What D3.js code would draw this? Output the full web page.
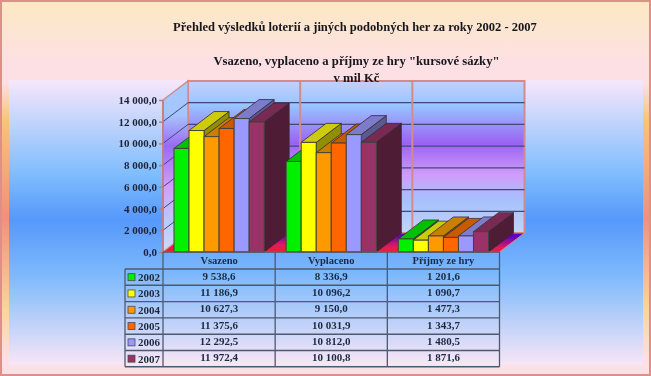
<!DOCTYPE html>
<html>
<head>
<meta charset="utf-8">
<script src="https://cdn.jsdelivr.net/npm/d3@7"></script>
<style>
  html, body { margin: 0; padding: 0; background: #fff; }
  svg { display: block; }
  text { font-family: "Liberation Serif", serif; font-weight: bold; }
</style>
</head>
<body>
<div id="chart"></div>
<script>
// data
const categories = ["Vsazeno", "Vyplaceno", "Příjmy ze hry"];
const years = ["2002", "2003", "2004", "2005", "2006", "2007"];
const vsazeno = [9538.6, 11186.9, 10627.3, 11375.6, 12292.5, 11972.4];
const vyplaceno = [8336.9, 10096.2, 9150.0, 10031.9, 10812.0, 10100.8];
const prijmy = [1201.6, 1090.7, 1477.3, 1343.7, 1480.5, 1871.6];
const seriesByCategory = [vsazeno, vyplaceno, prijmy];
const yTicks = [0, 2000, 4000, 6000, 8000, 10000, 12000, 14000];

const titleLines = [
    "Přehled výsledků loterií a jiných podobných her za roky 2002 - 2007",
    "Vsazeno, vyplaceno a příjmy ze hry \"kursové sázky\"",
    "v mil Kč"
];

const frontColors = ["#00f000", "#ffff00", "#ff9900", "#ff6600", "#9999ff", "#993366"];
const topColors = ["#00c000", "#cccc10", "#c98000", "#c85a00", "#7c7cc8", "#782a52"];
const sideColors = ["#009000", "#8f8f00", "#8f5a00", "#8f3a00", "#5a5a92", "#4f1b36"];

const width = 651, height = 376;
const depthX = 25, depthY = -19;   // 3D offset of the back wall
const left = 163, right = 499.5, base = 252, top14 = 100;

const svg = d3.select("#chart").append("svg")
    .attr("width", width)
    .attr("height", height);

const defs = svg.append("defs");

function vGrad(id, stops, y1, y2) {
    const g = defs.append("linearGradient")
        .attr("id", id)
        .attr("gradientUnits", "userSpaceOnUse")
        .attr("x1", 0).attr("x2", 0).attr("y1", y1).attr("y2", y2);
    stops.forEach(s => g.append("stop").attr("offset", s[0]).attr("stop-color", s[1]));
}

vGrad("outerBg", [[0, "#fbe9c2"], [0.17, "#fde0e4"], [0.22, "#fde0e4"], [0.32, "#f7c476"],
    [0.58, "#f2907a"], [0.82, "#f9d49a"], [0.96, "#fde0e6"], [1, "#fde0e6"]], 0, height);
vGrad("innerBg", [[0, "#f7e6fb"], [0.33, "#7fbdfd"], [0.49, "#5698fb"], [0.69, "#7fbafc"], [1, "#f8e6f6"]], 80, 365);
vGrad("wallBg", [[0, "#c4d0fa"], [0.16, "#98c4ff"], [0.41, "#9a62f2"], [0.62, "#cf9dfb"], [0.78, "#a6c0fd"], [1, "#c4d4fb"]], 81, 233);
vGrad("sideBg", [[0, "#a4ccff"], [0.2, "#a6c4fc"], [0.38, "#9a6af2"], [0.62, "#d09ffa"], [0.82, "#bcc8fb"], [1, "#d0d8f8"]], 81, 252);

const floorGrad = defs.append("linearGradient")
    .attr("id", "floorBg")
    .attr("x1", 0).attr("x2", 0.25).attr("y1", 1).attr("y2", 0);
floorGrad.append("stop").attr("offset", 0).attr("stop-color", "#f01e2c");
floorGrad.append("stop").attr("offset", 0.45).attr("stop-color", "#e01a5c");
floorGrad.append("stop").attr("offset", 1).attr("stop-color", "#5a00c8");

const soft = defs.append("filter").attr("id", "soft")
    .attr("x", "-5%").attr("y", "-5%").attr("width", "110%").attr("height", "110%");
soft.append("feGaussianBlur").attr("stdDeviation", 0.45);

// background
svg.append("rect").attr("width", width).attr("height", height).attr("fill", "url(#outerBg)");
svg.append("rect")
    .attr("x", 9).attr("y", 80).attr("width", 634).attr("height", 285)
    .attr("fill", "url(#innerBg)");
svg.append("rect")
    .attr("x", 1).attr("y", 1).attr("width", width - 2).attr("height", height - 2)
    .attr("fill", "none").attr("stroke", "#dd8f88").attr("stroke-width", 2);

// scales
const y = d3.scaleLinear().domain([0, 14000]).range([base, top14]);
const x0 = d3.scaleBand().domain(categories).range([left, right]).paddingInner(0.196).paddingOuter(0.098);
const x1 = d3.scaleBand().domain(years).range([0, x0.bandwidth()]);

const plot = svg.append("g").attr("filter", "url(#soft)");
const poly = pts => pts.map(p => p.join(",")).join(" ");
const wallStroke = "#d58a8a";

// walls and floor
plot.append("polygon")
    .attr("points", poly([[left + depthX, y(14000) + depthY], [right + depthX, y(14000) + depthY],
        [right + depthX, y(0) + depthY], [left + depthX, y(0) + depthY]]))
    .attr("fill", "url(#wallBg)").attr("stroke", wallStroke).attr("stroke-width", 2);
plot.append("polygon")
    .attr("points", poly([[left, y(14000)], [left + depthX, y(14000) + depthY],
        [left + depthX, y(0) + depthY], [left, y(0)]]))
    .attr("fill", "url(#sideBg)").attr("stroke", wallStroke).attr("stroke-width", 1.5);
plot.append("polygon")
    .attr("points", poly([[left, y(0)], [left + depthX, y(0) + depthY],
        [right + depthX, y(0) + depthY], [right, y(0)]]))
    .attr("fill", "url(#floorBg)").attr("stroke", "#d58a8a").attr("stroke-width", 1);

// gridlines
const gridTicks = yTicks.slice(1, -1);
plot.append("g").selectAll("line").data(gridTicks).enter().append("line")
    .attr("x1", left + depthX).attr("x2", right + depthX)
    .attr("y1", d => y(d) + depthY)
    .attr("y2", d => y(d) + depthY)
    .attr("stroke", "#3f4a78").attr("stroke-width", 1.2);
plot.append("g").selectAll("line").data(gridTicks).enter().append("line")
    .attr("x1", left).attr("x2", left + depthX)
    .attr("y1", d => y(d)).attr("y2", d => y(d) + depthY)
    .attr("stroke", "#3f4a78").attr("stroke-width", 1);
plot.append("g").selectAll("line").data(categories.slice(1)).enter().append("line")
    .attr("x1", d => x0(d) - x0.step() * x0.paddingInner() / 2 + depthX)
    .attr("x2", d => x0(d) - x0.step() * x0.paddingInner() / 2 + depthX)
    .attr("y1", y(14000) + depthY).attr("y2", y(0) + depthY)
    .attr("stroke", wallStroke).attr("stroke-width", 2);

// bars, left to right so the next bar covers the side of the one before
categories.forEach((cat, c) => {
    const g = plot.append("g").attr("transform", `translate(${x0(cat)},0)`);
    const bw = x1.bandwidth();
    seriesByCategory[c].forEach((v, i) => {
        const bx = x1(years[i]), by = y(v);
        g.append("polygon")
            .attr("points", poly([[bx + bw, by], [bx + bw + depthX, by + depthY],
                [bx + bw + depthX, y(0) + depthY], [bx + bw, y(0)]]))
            .attr("fill", sideColors[i]).attr("stroke", "#3a2a3a").attr("stroke-width", 0.8);
        g.append("polygon")
            .attr("points", poly([[bx, by], [bx + depthX, by + depthY],
                [bx + bw + depthX, by + depthY], [bx + bw, by]]))
            .attr("fill", topColors[i]).attr("stroke", "#3a2a3a").attr("stroke-width", 0.8);
        g.append("rect")
            .attr("x", bx).attr("y", by).attr("width", bw).attr("height", y(0) - by)
            .attr("fill", frontColors[i]).attr("stroke", "#44443c").attr("stroke-width", 1);
    });
});

// y axis
const numFormat = d3.formatLocale({ decimal: ",", thousands: " ", grouping: [3], currency: ["", ""] }).format(",.1f");
const yAxis = d3.axisLeft(y).tickValues(yTicks).tickSize(4).tickPadding(2).tickFormat(numFormat);
const axisG = svg.append("g")
    .attr("transform", `translate(${left},0)`)
    .attr("filter", "url(#soft)")
    .call(yAxis);
axisG.selectAll("path, line").attr("stroke", "#c07a7a").attr("stroke-width", 1.5);
axisG.selectAll("text").attr("fill", "#1c2438").style("font-size", "11px");
axisG.select(".domain").attr("d", `M0,${y(0)}V${y(14000)}`);

// titles
const titleY = [31, 65, 82];
const titleSize = ["12.55px", "12.7px", "12.7px"];
svg.append("g").attr("filter", "url(#soft)").selectAll("text").data(titleLines).enter().append("text")
    .attr("x", (d, i) => i === 0 ? 355 : 356.5).attr("y", (d, i) => titleY[i])
    .attr("text-anchor", "middle")
    .style("font-size", (d, i) => titleSize[i])
    .attr("fill", "#16161c")
    .text(d => d);

// data table
const tableLeft = 125, headerTop = 252, headerBottom = 269, rowH = 16.3;
const rowY = d3.scaleBand().domain(years).range([headerBottom, headerBottom + rowH * years.length]);
const tableInk = "#4c5a6e";
const table = svg.append("g").attr("filter", "url(#soft)");

const colEdges = [left].concat(categories.map(c => x0(c) + x0.bandwidth() + x0.step() * x0.paddingInner() / 2));
table.append("g").selectAll("line").data(colEdges).enter().append("line")
    .attr("x1", d => d).attr("x2", d => d)
    .attr("y1", headerTop).attr("y2", rowY.range()[1])
    .attr("stroke", tableInk).attr("stroke-width", 1.3);
table.append("line")
    .attr("x1", tableLeft).attr("x2", tableLeft)
    .attr("y1", headerBottom).attr("y2", rowY.range()[1])
    .attr("stroke", tableInk).attr("stroke-width", 1.3);
table.append("line")
    .attr("x1", left).attr("x2", right).attr("y1", base).attr("y2", base)
    .attr("stroke", tableInk).attr("stroke-width", 1.3);
table.append("g").selectAll("line").data(years.concat(["end"])).enter().append("line")
    .attr("x1", tableLeft).attr("x2", right)
    .attr("y1", d => d === "end" ? rowY.range()[1] : rowY(d))
    .attr("y2", d => d === "end" ? rowY.range()[1] : rowY(d))
    .attr("stroke", tableInk).attr("stroke-width", 1.4);

const textInk = "#1e2a3e";
table.append("g").selectAll("text").data(categories).enter().append("text")
    .attr("x", d => x0(d) + x0.bandwidth() / 2)
    .attr("y", 264)
    .attr("text-anchor", "middle")
    .attr("fill", textInk)
    .style("font-size", "10.5px")
    .text(d => d);

years.forEach((yr, i) => {
    const cy = rowY(yr) + rowY.bandwidth() / 2;
    table.append("rect")
        .attr("x", 128).attr("y", cy - 3.5).attr("width", 7).attr("height", 7)
        .attr("fill", frontColors[i]).attr("stroke", "#4a4a5a").attr("stroke-width", 0.8);
    table.append("text")
        .attr("x", 138).attr("y", cy + 4)
        .attr("fill", textInk)
        .style("font-size", "11px")
        .text(yr);
    categories.forEach((cat, c) => {
        table.append("text")
            .attr("x", x0(cat) + x0.bandwidth() / 2)
            .attr("y", cy + 2.5)
            .attr("text-anchor", "middle")
            .attr("fill", textInk)
            .style("font-size", "11px")
            .text(numFormat(seriesByCategory[c][i]));
    });
});
</script>
</body>
</html>
